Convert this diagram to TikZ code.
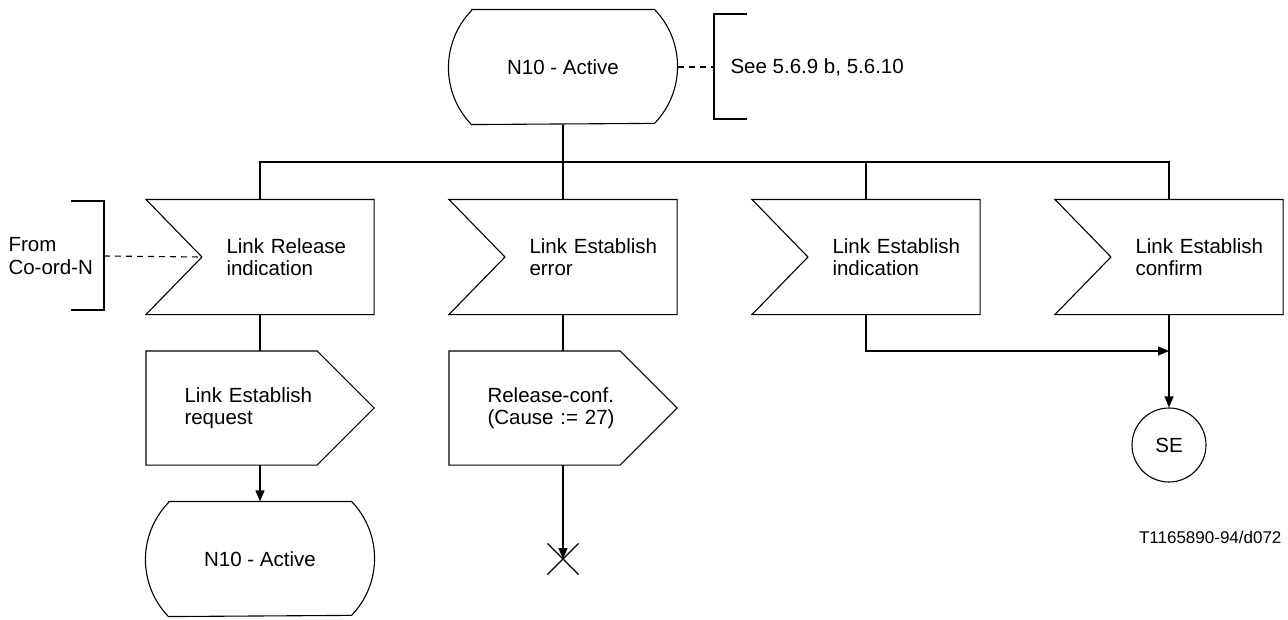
\documentclass[tikz,border=0pt]{standalone}
\usepackage{fontspec}
\setmainfont{Liberation Sans}
\usetikzlibrary{arrows.meta,shapes.misc}
\tikzset{
  >={Triangle[length=11pt,width=9pt]},
  base/.style={inner sep=0pt, font=\fontsize{20.5}{22.5}\selectfont},
  signalIn/.style={base, minimum width=227pt, minimum height=114pt,
                   text width=227pt, align=left,
                   execute at begin node={\leftskip=80pt}},
  signalOut/.style={base, minimum width=227pt, minimum height=113pt,
                    text width=227pt, align=left,
                    execute at begin node={\leftskip=38pt}},
  stateBox/.style={base, minimum width=228pt, minimum height=114pt},
  noteText/.style={base, align=left},
  stopX/.style={cross out, draw, minimum size=30pt, inner sep=0pt},
  leader/.style={dash pattern=on 6pt off 5pt}
}

\begin{document}
\begin{tikzpicture}[x=1pt, y=-1pt, line width=1.1pt]
\useasboundingbox (0,0) rectangle (1288,619);

% ------------------------------------------------------------
% STARTING STATE
% ------------------------------------------------------------
\node[stateBox] (active) at (563,67) {N10 - Active};
\node[noteText, anchor=west] (seeNote) at (730,67) {See 5.6.9 b, 5.6.10};
\coordinate (seeBr) at (714,67);

% ------------------------------------------------------------
% INPUT SIGNALS
% ------------------------------------------------------------
\node[signalIn] (relInd)  at (260,257)  {Link Release\\indication};
\node[signalIn] (estErr)  at (563,257)  {Link Establish\\error};
\node[signalIn] (estInd)  at (866,257)  {Link Establish\\indication};
\node[signalIn] (estConf) at (1169,257) {Link Establish\\confirm};

\node[noteText, anchor=west] (fromNote) at (8,256) {From\\Co-ord-N};
\coordinate (fromBr) at (104,256);

% ------------------------------------------------------------
% OUTPUTS AND NEXT STATES
% ------------------------------------------------------------
\node[signalOut] (estReq)  at (260,408) {Link Establish\\request};
\node[signalOut] (relConf) at (563,408) {Release-conf.\\(Cause := 27)};

\node[stateBox] (back) at (260,559) {N10 - Active};
\node[stopX] (stop) at (563,559) {};
\node[base, circle, draw, minimum size=74pt] (se) at (1169,445) {SE};

\node[base, font=\fontsize{17}{19}\selectfont, anchor=east] (figId)
  at (1282,537) {T1165890-94/d072};

% outlines
\foreach \n in {active,back}
  \draw ([xshift=23pt]\n.north west) -- ([xshift=-23pt]\n.north east)
    arc[start angle=44, end angle=-44, radius=82pt]
    -- ([xshift=23pt]\n.south west)
    arc[start angle=224, end angle=136, radius=82pt] -- cycle;
\foreach \n in {relInd,estErr,estInd,estConf}
  \draw (\n.north west) -- (\n.north east) -- (\n.south east)
    -- (\n.south west) -- ([xshift=56pt]\n.west) -- cycle;
\foreach \n in {estReq,relConf}
  \draw (\n.north west) -- ([xshift=-57pt]\n.north east) -- (\n.east)
    -- ([xshift=-57pt]\n.south east) -- (\n.south west) -- cycle;

% comment brackets
\draw (seeBr) ++(33,-53) -- ++(-33,0) -- ++(0,105) -- ++(33,0);
\draw (fromBr) ++(-33,-55) -- ++(33,0) -- ++(0,109) -- ++(-33,0);
\draw[leader] (active.east) -- (seeBr);
\draw[leader] (fromBr) -- ([xshift=56pt]relInd.west);

% ------------------------------------------------------------
% FLOW LINES
% ------------------------------------------------------------
\coordinate (bus) at (563,162);
\draw (active.south) -- (bus);
\draw (relInd.north) |- (bus) -| (estConf.north);
\draw (bus) -- (estErr.north);
\draw (estInd.north) -- (estInd.north |- bus);

\draw (relInd.south) -- (estReq.north);
\draw[->] (estReq.south) -- (back.north);
\draw (estErr.south) -- (relConf.north);
\draw[->] (relConf.south) -- (stop.center);

\coordinate (join) at (1169,351);
\draw[->] (estInd.south) |- (join);
\draw[->] (estConf.south) -- (se.north);

\end{tikzpicture}
\end{document}
